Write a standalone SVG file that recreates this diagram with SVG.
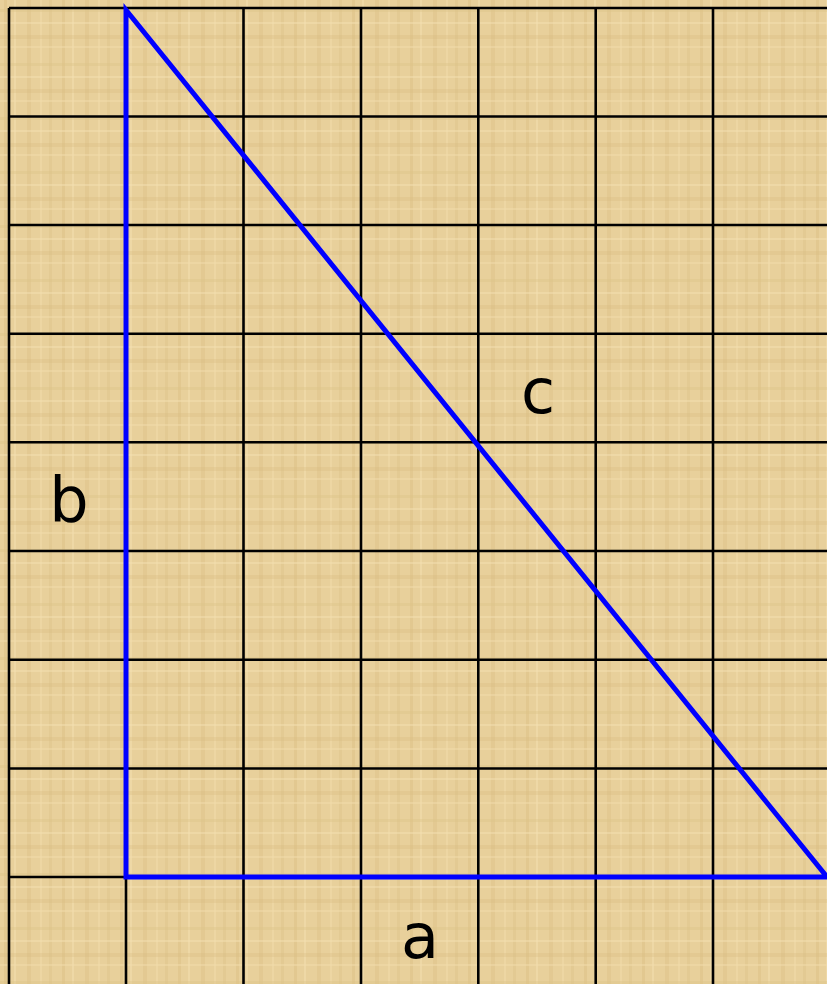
<svg xmlns="http://www.w3.org/2000/svg" width="827" height="984" viewBox="0 0 827 984">
  <defs>
    <pattern id="papyrus" x="0" y="0" width="58" height="54" patternUnits="userSpaceOnUse">
      <rect width="58" height="54" fill="#E8D09B"/>
      <rect x="4" y="0" width="3" height="54" fill="#DCC085" opacity="0.5"/>
      <rect x="14" y="0" width="2" height="54" fill="#F2DDAE" opacity="0.6"/>
      <rect x="27" y="0" width="4" height="54" fill="#D9BC80" opacity="0.35"/>
      <rect x="40" y="0" width="2" height="54" fill="#F0DAA8" opacity="0.6"/>
      <rect x="49" y="0" width="3" height="54" fill="#DCC088" opacity="0.4"/>
      <rect x="0" y="9" width="58" height="3" fill="#DDC288" opacity="0.4"/>
      <rect x="0" y="22" width="58" height="2" fill="#F3DFB2" opacity="0.5"/>
      <rect x="0" y="35" width="58" height="4" fill="#D8BB7E" opacity="0.3"/>
      <rect x="0" y="46" width="58" height="2" fill="#F1DCAB" opacity="0.5"/>
    </pattern>
    <style>
      .grid line { stroke: #000000; stroke-width: 2.6; }
      .side { fill: none; stroke: #0000FF; stroke-width: 5; stroke-linejoin: miter; stroke-linecap: butt; }
      .lbl { font-family: "DejaVu Sans", "Liberation Sans", sans-serif; font-size: 62px; fill: #000000; text-anchor: middle; }
    </style>
  </defs>
  <rect width="827" height="984" fill="url(#papyrus)"/>
  <g id="grid" class="grid">
    <line x1="9" y1="8" x2="9" y2="984"/>
    <line x1="126" y1="8" x2="126" y2="984"/>
    <line x1="243.5" y1="8" x2="243.5" y2="984"/>
    <line x1="361" y1="8" x2="361" y2="984"/>
    <line x1="478.3" y1="8" x2="478.3" y2="984"/>
    <line x1="595.7" y1="8" x2="595.7" y2="984"/>
    <line x1="713" y1="8" x2="713" y2="984"/>
    <line x1="9" y1="8" x2="827" y2="8"/>
    <line x1="9" y1="116.5" x2="827" y2="116.5"/>
    <line x1="9" y1="225" x2="827" y2="225"/>
    <line x1="9" y1="333.7" x2="827" y2="333.7"/>
    <line x1="9" y1="442.3" x2="827" y2="442.3"/>
    <line x1="9" y1="551" x2="827" y2="551"/>
    <line x1="9" y1="659.7" x2="827" y2="659.7"/>
    <line x1="9" y1="768.5" x2="827" y2="768.5"/>
    <line x1="9" y1="877" x2="827" y2="877"/>
  </g>
  <g id="triangle">
    <polygon class="side" points="126,10 126,877 827,877"/>
  </g>
  <g id="labels">
    <text id="label-b" class="lbl" x="69" y="521">b</text>
    <text id="label-c" class="lbl" x="538" y="413">c</text>
    <text id="label-a" class="lbl" x="420" y="958">a</text>
  </g>
</svg>
